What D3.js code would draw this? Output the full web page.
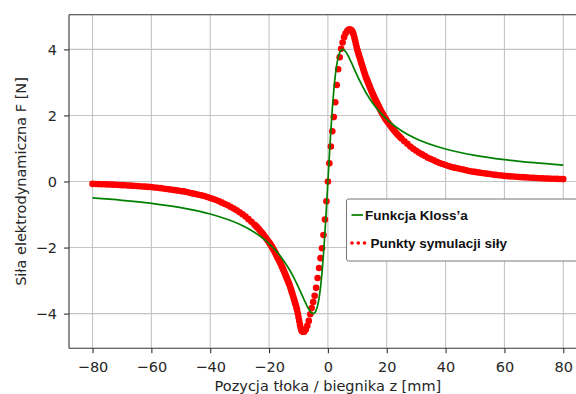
<!DOCTYPE html>
<html><head><meta charset="utf-8">
<script src="https://cdn.jsdelivr.net/npm/d3@7"></script>
<style>body{margin:0;background:#fff} svg{display:block}</style>
</head><body><svg id="c" width="576" height="394"></svg>
<script>
const xTicks = [-80,-60,-40,-20,0,20,40,60,80];
const yTicks = [-4,-2,0,2,4];
const seriesNames = ["Funkcja Kloss\u2019a", "Punkty symulacji si\u0142y"];
const xLabel = "Pozycja t\u0142oka / biegnika z [mm]";
const yLabel = "Si\u0142a elektrodynamiczna F [N]";

const klossZ = [-80,-70,-60,-50,-40,-30,-25,-20,-16,-13,-11,-9,-8,-7,-6,-5.5,-5,-4.5,-4,-3.5,-3,-2.5,-2,-1.5,-1,-0.5,0,0.5,1,1.5,2,2.5,3,3.5,4,4.5,5,5.5,6,7,8,9,11,13,16,20,25,30,40,50,60,70,80];
const klossF = [-0.498,-0.569,-0.662,-0.792,-0.985,-1.297,-1.538,-1.882,-2.278,-2.680,-3.014,-3.396,-3.596,-3.784,-3.934,-3.982,-4.0,-3.978,-3.902,-3.758,-3.529,-3.2,-2.759,-2.202,-1.538,-0.792,0,0.792,1.538,2.202,2.759,3.2,3.529,3.758,3.902,3.978,4.0,3.982,3.934,3.784,3.596,3.396,3.014,2.680,2.278,1.882,1.538,1.297,0.985,0.792,0.662,0.569,0.498];

const simZ = [
-80,-79,-78,-77,-76,-75,-74,-73,-72,-71,-70,-69,-68,-67,-66,-65,-64,-63,-62,-61,-60,-59,-58,-57,-56,-55,-54,-53,-52,-51,-50,-49,-48,-47,-46,-45,-44,-43,-42,-41,-40,-39,-38,-37,-36,-35,-34,-33,-32,-31,-30,-29,-28,-27,-26,
-25,-24.5,-24,-23.5,-23,-22.5,-22,-21.5,-21,-20.5,
-20,-19.75,-19.5,-19.25,-19,-18.75,-18.5,-18.25,-18,-17.75,-17.5,-17.25,-17,-16.75,-16.5,-16.25,-16,-15.75,-15.5,-15.25,-15,-14.75,-14.5,-14.25,-14,-13.75,-13.5,-13.25,-13,-12.75,-12.5,-12.25,-12,-11.75,-11.5,-11.25,-11,-10.75,-10.5,-10.25,-10,-9.75,-9.5,-9.25,-9,-8.75,-8.5,-8.25,-8,
-7.5,-7,-6.5,-6,-5.5,-5,-4.5,-4,-3.5,-3,-2.5,-2,-1.5,-1,-0.5,
0,0.5,1,1.5,2,2.5,3,3.5,4,4.5,5,5.5,6,6.5,
7,7.25,7.5,7.75,8,8.25,8.5,8.75,9,9.25,9.5,9.75,10,10.25,10.5,10.75,11,11.25,11.5,11.75,12,12.25,12.5,12.75,13,13.25,13.5,13.75,14,14.25,14.5,14.75,15,15.25,15.5,15.75,16,16.25,16.5,16.75,17,17.25,17.5,17.75,18,18.25,18.5,18.75,19,19.25,19.5,19.75,20,
20.5,21,21.5,22,22.5,23,23.5,24,24.5,25,
26,27,28,29,30,31,32,33,34,35,36,37,38,39,40,41,42,43,44,45,46,47,48,49,50,51,52,53,54,55,56,57,58,59,60,61,62,63,64,65,66,67,68,69,70,71,72,73,74,75,76,77,78,79,80];
const simF = [
-0.073,-0.076,-0.079,-0.082,-0.085,-0.088,-0.092,-0.096,-0.10,-0.105,-0.11,-0.115,-0.12,-0.126,-0.132,-0.138,-0.144,-0.15,-0.156,-0.163,-0.17,-0.18,-0.19,-0.20,-0.213,-0.225,-0.237,-0.25,-0.262,-0.275,-0.29,-0.30,-0.32,-0.34,-0.36,-0.38,-0.40,-0.42,-0.44,-0.47,-0.50,-0.53,-0.56,-0.60,-0.64,-0.68,-0.72,-0.77,-0.82,-0.87,-0.93,-0.99,-1.06,-1.14,-1.22,
-1.30,-1.345,-1.39,-1.44,-1.49,-1.545,-1.60,-1.66,-1.72,-1.78,
-1.84,-1.875,-1.91,-1.945,-1.98,-2.02,-2.06,-2.10,-2.14,-2.185,-2.23,-2.275,-2.32,-2.365,-2.41,-2.455,-2.50,-2.55,-2.60,-2.65,-2.70,-2.755,-2.81,-2.865,-2.92,-2.975,-3.03,-3.085,-3.14,-3.21,-3.28,-3.35,-3.42,-3.495,-3.57,-3.645,-3.72,-3.80,-3.88,-3.99,-4.10,-4.22,-4.34,-4.43,-4.50,-4.535,-4.55,-4.55,-4.54,
-4.48,-4.37,-4.22,-4.02,-3.83,-3.65,-3.46,-3.22,-2.92,-2.62,-2.32,-2.02,-1.62,-1.15,-0.60,
0,0.55,1.06,1.52,1.95,2.40,2.92,3.40,3.76,4.02,4.21,4.37,4.48,4.55,
4.59,4.60,4.60,4.595,4.58,4.55,4.50,4.44,4.36,4.27,4.17,4.08,3.99,3.91,3.84,3.77,3.70,3.62,3.55,3.48,3.41,3.34,3.27,3.20,3.14,3.085,3.03,2.975,2.92,2.865,2.81,2.755,2.70,2.65,2.60,2.55,2.50,2.455,2.41,2.365,2.32,2.275,2.23,2.185,2.14,2.10,2.06,2.02,1.98,1.945,1.91,1.875,1.84,
1.78,1.72,1.66,1.60,1.545,1.49,1.44,1.39,1.345,1.30,
1.22,1.14,1.06,0.99,0.93,0.87,0.82,0.77,0.72,0.68,0.64,0.60,0.56,0.53,0.50,0.47,0.44,0.42,0.40,0.38,0.36,0.34,0.32,0.30,0.29,0.275,0.262,0.25,0.237,0.225,0.213,0.20,0.19,0.18,0.17,0.163,0.156,0.15,0.144,0.138,0.132,0.126,0.12,0.115,0.11,0.105,0.10,0.096,0.092,0.088,0.085,0.082,0.079,0.076,0.073];

const L = 69, R = 586.8, T = 14.7, B = 348.3;
const x = d3.scaleLinear().domain([-88, 88]).range([L, R]);
const y = d3.scaleLinear().domain([-5.05, 5.05]).range([B, T]);
const svg = d3.select("#c");
svg.append("rect").attr("width",576).attr("height",394).attr("fill","#fff");

const tickFont = "'DejaVu Sans', sans-serif";
const gridC = "#c4c4c4";

svg.append("g").selectAll("line").data(xTicks).join("line")
  .attr("x1", d=>x(d)).attr("x2", d=>x(d)).attr("y1", T).attr("y2", B)
  .attr("stroke", gridC).attr("stroke-width", 1.1);
svg.append("g").selectAll("line").data(yTicks).join("line")
  .attr("y1", d=>y(d)).attr("y2", d=>y(d)).attr("x1", L).attr("x2", R)
  .attr("stroke", gridC).attr("stroke-width", 1.1);

svg.append("clipPath").attr("id","clip").append("rect").attr("x",L).attr("y",T).attr("width",R-L).attr("height",B-T);
const plot = svg.append("g").attr("clip-path","url(#clip)");

const n = Math.min(simZ.length, simF.length);
const simData = simZ.slice(0, n).map((z,i)=>({z, f: simF[i]}));
plot.append("g").selectAll("circle").data(simData).join("circle")
  .attr("cx", d=>x(d.z)).attr("cy", d=>y(d.f)).attr("r", 3.3).attr("fill", "#ff0000");

const klossData = klossZ.map((z,i)=>({z, f: klossF[i]}));
plot.append("path").datum(klossData)
  .attr("d", d3.line().x(d=>x(d.z)).y(d=>y(d.f)).curve(d3.curveMonotoneX))
  .attr("fill","none").attr("stroke","#008000").attr("stroke-width",1.7);

const xAxis = svg.append("g").attr("transform",`translate(0,${B})`)
  .call(d3.axisBottom(x).tickValues(xTicks).tickSize(5).tickPadding(7));
const yAxis = svg.append("g").attr("transform",`translate(${L},0)`)
  .call(d3.axisLeft(y).tickValues(yTicks).tickSize(5).tickPadding(7));
[xAxis, yAxis].forEach(g=>{
  g.select(".domain").remove();
  g.selectAll(".tick line").attr("stroke","#333").attr("stroke-width",1.1);
  g.selectAll(".tick text").attr("fill","#262626").style("font-family",tickFont).style("font-size","14.5px");
});
xAxis.selectAll(".tick text").attr("dy",null).attr("y",23.3);

svg.append("line").attr("x1",L).attr("x2",L).attr("y1",T).attr("y2",B).attr("stroke","#333").attr("stroke-width",1.1);
svg.append("line").attr("x1",L).attr("x2",R).attr("y1",T).attr("y2",T).attr("stroke","#333").attr("stroke-width",1.1);
svg.append("line").attr("x1",L).attr("x2",R).attr("y1",B).attr("y2",B).attr("stroke","#333").attr("stroke-width",1.1);

svg.append("text").attr("x",(L+R)/2).attr("y",391).attr("text-anchor","middle")
  .style("font-family",tickFont).style("font-size","14.5px").attr("fill","#262626").text(xLabel);
svg.append("text").attr("transform",`translate(25.5,${(T+B)/2}) rotate(-90)`).attr("text-anchor","middle")
  .style("font-family",tickFont).style("font-size","14.5px").attr("fill","#262626").text(yLabel);

const lg = svg.append("g");
lg.append("rect").attr("x",346.5).attr("y",199).attr("width",250).attr("height",62).attr("rx",2)
  .attr("fill","#fff").attr("stroke","#777").attr("stroke-width",1);
lg.append("line").attr("x1",351.5).attr("x2",363).attr("y1",215).attr("y2",215)
  .attr("stroke","#008000").attr("stroke-width",1.7);
lg.append("g").selectAll("circle").data([352,358.3,364.5]).join("circle")
  .attr("cx",d=>d).attr("cy",243).attr("r",1.8).attr("fill","#ff0000");
const legFont = "'Liberation Sans', Arial, sans-serif";
lg.append("text").attr("x",365).attr("y",219.5).style("font-family",legFont).style("font-weight","bold")
  .style("font-size","13.5px").attr("fill","#111").text(seriesNames[0]);
lg.append("text").attr("x",370.5).attr("y",247.5).style("font-family",legFont).style("font-weight","bold")
  .style("font-size","13.5px").attr("fill","#111").text(seriesNames[1]);
</script></body></html>
